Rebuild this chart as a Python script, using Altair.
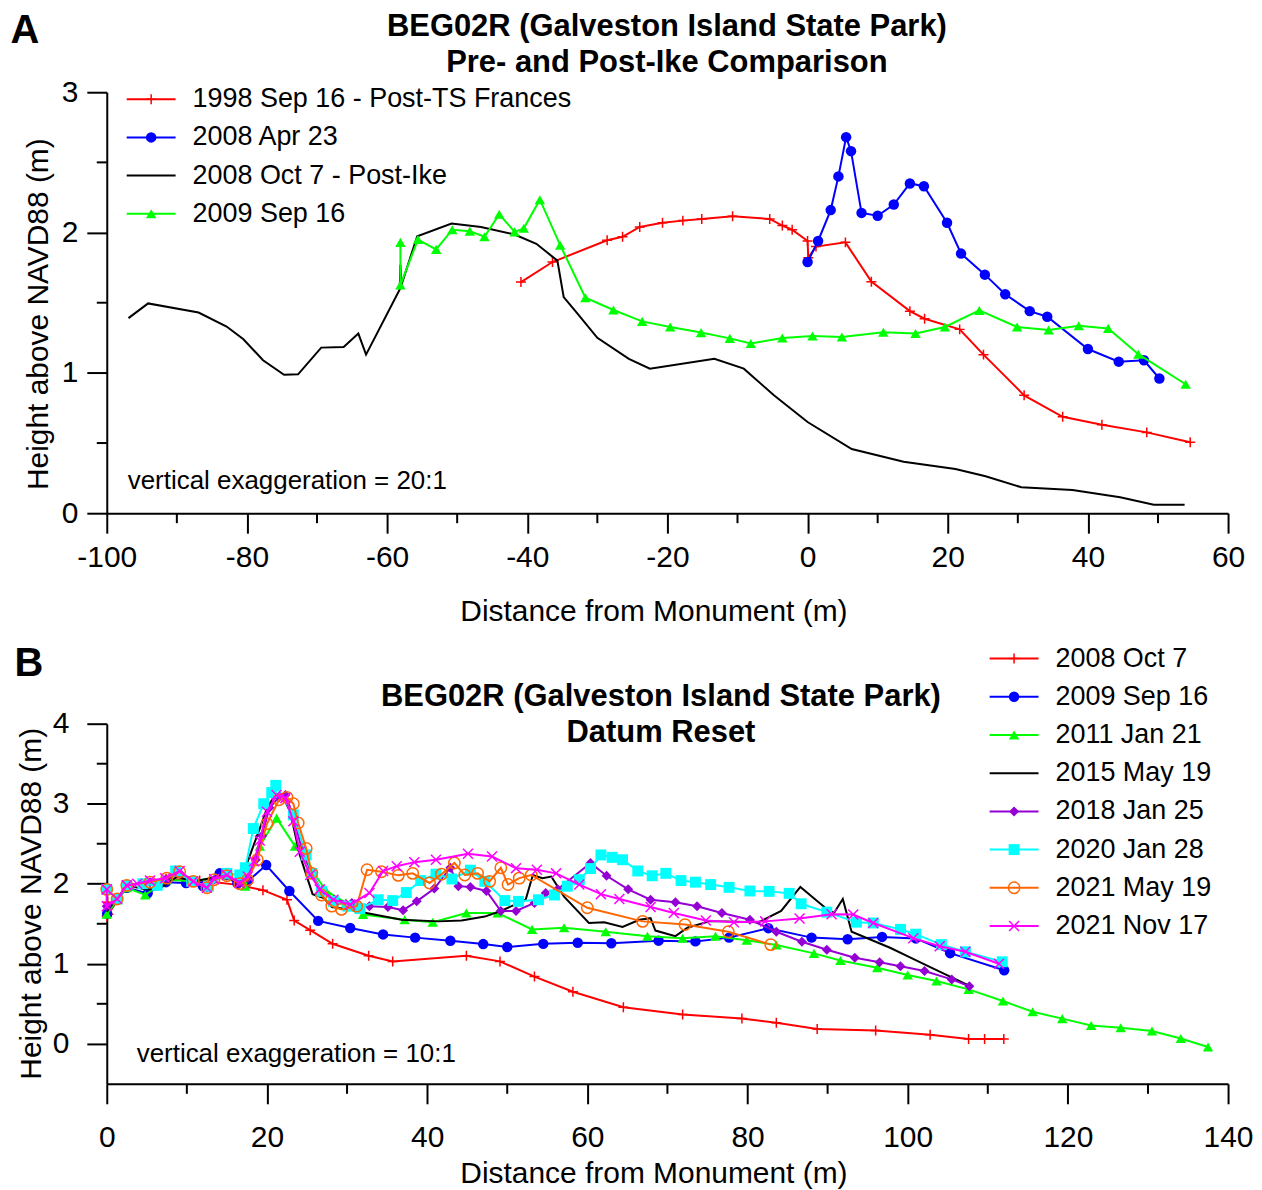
import altair as alt
import pandas as pd

FONT = "Liberation Sans"

# ---------------- Panel A data ----------------
a_1998_x = [-40.9, -36.4, -28.6, -26.4, -23.95, -20.7, -17.8, -15.1, -10.7, -5.4, -3.6, -2.2, 0.0, 0.1, 1.2, 5.4,
            9.1, 14.6, 16.7, 21.7, 25.1, 30.9, 36.4, 42.0, 48.4, 54.6]
a_1998_y = [1.647, 1.79, 1.945, 1.97, 2.04, 2.07, 2.085, 2.097, 2.116, 2.097, 2.05, 2.02, 1.94, 1.82, 1.90, 1.93,
            1.65, 1.44, 1.386, 1.31, 1.13, 0.84, 0.687, 0.63, 0.576, 0.505]

a_2008apr_x = [0.0, 1.5, 3.3, 4.4, 5.5, 6.2, 7.7, 10.0, 12.3, 14.6, 16.6, 19.9, 21.9, 25.3, 28.2, 31.7, 34.2,
               40.0, 44.4, 48.0, 50.2]
a_2008apr_y = [1.79, 1.94, 2.16, 2.40, 2.68, 2.58, 2.14, 2.12, 2.20, 2.35, 2.33, 2.07, 1.85, 1.70, 1.56, 1.44, 1.40,
               1.17, 1.08, 1.09, 0.96]

a_2008oct_x = [-96.9, -94.1, -86.9, -82.9, -80.5, -77.7, -74.7, -72.7, -69.4, -66.2, -64.1, -63.0, -58.2, -58.1,
               -58.0, -55.7, -50.8, -46.6, -41.8, -38.7, -35.7, -34.8, -32.8, -30.0, -25.5, -22.5, -13.3, -9.1,
               -4.8, 0.0, 6.3, 13.7, 21.1, 25.4, 30.5, 37.8, 44.6, 49.4, 51.4, 53.8]
a_2008oct_y = [1.39, 1.495, 1.43, 1.33, 1.24, 1.09, 0.986, 0.99, 1.18, 1.185, 1.28, 1.13, 1.595, 1.77, 1.62,
               1.974, 2.064, 2.04, 1.986, 1.92, 1.80, 1.54, 1.42, 1.25, 1.10, 1.03, 1.10, 1.03, 0.84, 0.65, 0.457,
               0.367, 0.315, 0.263, 0.185, 0.166, 0.114, 0.06, 0.06, 0.06]

a_2009_x = [-58.1, -58.1, -55.6, -53.0, -50.7, -48.2, -46.1, -44.0, -41.8, -40.5, -38.2, -35.3, -31.7, -27.7,
            -23.6, -19.6, -15.2, -11.1, -8.1, -3.6, 0.7, 4.9, 10.8, 15.4, 19.6, 24.5, 29.9, 34.4, 38.7, 42.9, 47.2,
            53.95]
a_2009_y = [1.93, 1.626, 1.95, 1.88, 2.02, 2.01, 1.97, 2.13, 2.005, 2.03, 2.234, 1.91, 1.536, 1.448, 1.367, 1.327,
            1.287, 1.246, 1.209, 1.249, 1.263, 1.256, 1.289, 1.28, 1.327, 1.445, 1.327, 1.306, 1.336, 1.317, 1.133,
            0.919]

# ---------------- Panel B data ----------------
b_2008_x = [0.0, 0.1, 0.2, 2.5, 7.4, 11.6, 16.4, 19.5, 22.5, 23.4, 25.4, 28.2, 32.7, 35.7, 44.9, 49.1, 53.4, 58.2,
            64.5, 71.9, 79.3, 83.6, 88.7, 96.0, 102.8, 107.6, 109.6, 112.0]
b_2008_y = [1.595, 1.77, 1.62, 1.974, 2.064, 2.04, 1.986, 1.92, 1.80, 1.54, 1.42, 1.25, 1.10, 1.03, 1.10, 1.03,
            0.84, 0.65, 0.457, 0.367, 0.315, 0.263, 0.185, 0.166, 0.114, 0.06, 0.06, 0.06]

b_2009_x = [0.0, 0.05, 2.5, 5.1, 7.4, 9.9, 12.0, 14.1, 16.3, 17.6, 19.9, 22.8, 26.4, 30.4, 34.5, 38.5, 42.9, 47.0,
            50.0, 54.5, 58.8, 63.0, 68.9, 73.5, 77.7, 82.6, 88.0, 92.5, 96.8, 101.0, 105.3, 112.05]
b_2009_y = [1.93, 1.626, 1.95, 1.88, 2.02, 2.01, 1.97, 2.13, 2.005, 2.03, 2.234, 1.91, 1.536, 1.448, 1.367, 1.327,
            1.287, 1.246, 1.209, 1.249, 1.263, 1.256, 1.289, 1.28, 1.327, 1.445, 1.327, 1.306, 1.336, 1.317, 1.133,
            0.919]

b_2011_x = [0.0, 2.5, 4.8, 7.5, 10.8, 15.0, 17.3, 19.1, 21.2, 23.5, 25.4, 27.4, 29.9, 32.0, 37.2, 40.7, 44.9, 48.8,
            53.1, 57.1, 62.3, 67.5, 71.9, 76.0, 79.9, 83.6, 88.3, 91.6, 96.2, 100.0, 103.6, 107.6, 111.9, 115.6,
            119.3, 122.9, 126.6, 130.5, 134.1, 137.5]
b_2011_y = [1.62, 1.95, 1.86, 2.05, 2.03, 2.10, 1.97, 2.47, 2.82, 2.47, 2.20, 1.91, 1.76, 1.615, 1.55, 1.52, 1.635,
            1.635, 1.43, 1.45, 1.40, 1.345, 1.32, 1.345, 1.295, 1.235, 1.13, 1.04, 0.95, 0.86, 0.785, 0.68, 0.535,
            0.40, 0.315, 0.23, 0.20, 0.16, 0.066, -0.04]

b_2015_x = [0.0, 2.5, 4.8, 6.5, 8.8, 10.8, 15.0, 16.6, 17.6, 19.1, 20.0, 21.0, 22.0, 22.9, 24.1, 25.7, 27.1, 28.1,
            30.1, 32.4, 36.8, 41.4, 44.3, 47.2, 49.2, 52.3, 53.2, 54.4, 55.5, 57.1, 60.2, 62.1, 64.4, 66.5, 67.9,
            68.5, 71.0, 72.5, 75.2, 77.1, 81.4, 84.2, 86.6, 87.8, 89.7, 90.8, 91.9, 93.0, 97.8, 99.9, 103.4, 107.4]
b_2015_y = [1.65, 1.98, 1.93, 1.93, 2.09, 2.03, 2.11, 1.98, 2.28, 2.69, 2.94, 3.11, 3.09, 2.90, 2.36, 1.87, 1.82,
            1.71, 1.68, 1.635, 1.55, 1.53, 1.54, 1.59, 1.66, 1.80, 2.11, 2.07, 2.09, 1.84, 1.51, 1.52, 1.46, 1.55,
            1.57, 1.415, 1.345, 1.45, 1.53, 1.53, 1.52, 1.66, 1.96, 1.86, 1.70, 1.635, 1.81, 1.40, 1.20, 1.10, 0.93,
            0.74]

b_2018_x = [0.0, 1.3, 2.5, 5.4, 7.3, 9.1, 10.8, 12.5, 13.4, 15.0, 16.6, 17.6, 18.6, 19.4, 20.3, 21.5, 22.3, 23.3,
            24.3, 25.5, 26.8, 28.4, 30.6, 32.8, 35.1, 37.0, 38.7, 40.9, 42.9, 43.9, 45.4, 47.4, 49.2, 51.1, 53.4,
            54.8, 56.3, 60.4, 62.4, 65.1, 67.9, 71.0, 73.7, 76.8, 80.3, 83.6, 86.8, 89.9, 93.4, 96.5, 99.1, 102.1,
            105.5, 107.7]
b_2018_y = [1.72, 1.81, 1.98, 2.02, 2.05, 2.13, 2.03, 1.95, 2.05, 2.10, 2.00, 2.07, 2.30, 2.60, 2.95, 3.08, 3.11,
            2.85, 2.45, 2.15, 1.92, 1.80, 1.76, 1.72, 1.71, 1.67, 1.78, 1.94, 2.20, 1.97, 1.96, 1.91, 1.66, 1.66,
            1.76, 1.885, 1.93, 2.26, 2.10, 1.93, 1.80, 1.77, 1.72, 1.635, 1.55, 1.40, 1.275, 1.175, 1.075, 1.02,
            0.97, 0.91, 0.805, 0.72]

b_2020_x = [0.0, 1.3, 2.5, 4.5, 6.3, 8.6, 10.6, 12.7, 15.0, 16.6, 17.3, 18.3, 19.6, 20.6, 21.1, 23.3, 24.9, 25.6,
            26.8, 28.3, 30.1, 31.6, 33.9, 35.7, 37.4, 39.2, 41.1, 43.1, 45.4, 47.2, 49.7, 51.4, 53.9, 55.9, 57.5,
            59.0, 60.4, 61.7, 63.1, 64.4, 66.3, 68.1, 69.8, 71.7, 73.5, 75.4, 77.7, 80.3, 82.7, 85.2, 86.7, 89.9,
            93.6, 95.7, 99.1, 101.0, 104.2, 107.2, 111.8]
b_2020_y = [1.93, 1.81, 1.98, 2.00, 1.98, 2.16, 2.03, 1.97, 2.13, 2.11, 2.20, 2.69, 3.00, 3.14, 3.23, 2.86, 2.36,
            2.13, 1.905, 1.78, 1.72, 1.69, 1.80, 1.79, 1.89, 2.04, 2.12, 2.06, 2.17, 2.03, 1.79, 1.78, 1.80, 1.86,
            1.97, 2.05, 2.19, 2.36, 2.33, 2.30, 2.16, 2.10, 2.13, 2.04, 2.02, 1.99, 1.955, 1.91, 1.905, 1.88, 1.75,
            1.645, 1.52, 1.51, 1.43, 1.37, 1.24, 1.15, 1.025]

b_2021may_x = [0.0, 1.3, 2.5, 5.4, 7.5, 9.1, 10.8, 12.5, 13.4, 15.0, 16.6, 17.6, 18.8, 20.0, 21.5, 22.5, 23.3, 23.9,
               24.9, 25.6, 26.8, 28.1, 29.3, 31.2, 32.5, 34.3, 36.4, 38.2, 40.3, 41.8, 43.4, 44.7, 46.3, 47.8, 49.2,
               50.1, 51.5, 53.0, 60.0, 66.9, 72.2, 77.6, 82.9]
b_2021may_y = [1.93, 1.81, 1.98, 2.02, 2.07, 2.15, 2.03, 1.95, 2.05, 2.10, 2.00, 2.05, 2.30, 2.75, 3.05, 3.08, 3.00,
               2.76, 2.44, 2.13, 1.86, 1.72, 1.68, 1.72, 2.175, 2.15, 2.105, 2.13, 2.01, 2.12, 2.26, 2.11, 2.13, 2.03,
               2.20, 1.99, 2.07, 2.11, 1.70, 1.53, 1.49, 1.40, 1.24]

b_2021nov_x = [0.0, 0.0, 1.3, 2.5, 3.8, 5.4, 7.3, 9.1, 10.8, 12.5, 13.4, 15.0, 16.6, 17.6, 18.4, 19.1, 20.0, 21.2,
               22.3, 23.3, 24.1, 25.4, 26.6, 28.3, 30.4, 32.8, 34.5, 36.2, 38.4, 41.1, 45.1, 48.1, 51.1, 53.7, 56.1,
               59.0, 61.7, 64.0, 67.9, 70.8, 74.8, 78.3, 82.2, 86.5, 90.5, 93.2, 95.7, 100.7, 104.0, 107.2, 111.4]
b_2021nov_y = [1.93, 1.72, 1.81, 1.98, 2.00, 2.04, 2.07, 2.16, 2.03, 1.95, 2.06, 2.11, 2.01, 2.09, 2.28, 2.54, 2.90,
               3.11, 3.07, 2.78, 2.40, 2.11, 1.93, 1.80, 1.74, 1.885, 2.16, 2.22, 2.27, 2.30, 2.375, 2.34, 2.195,
               2.175, 2.13, 1.99, 1.87, 1.81, 1.71, 1.635, 1.54, 1.52, 1.53, 1.565, 1.62, 1.615, 1.51, 1.32, 1.22,
               1.15, 1.0]

# tick values
a_x_major = [-100, -80, -60, -40, -20, 0, 20, 40, 60]
a_x_minor = [-90, -70, -50, -30, -10, 10, 30, 50]
a_y_major = [0, 1, 2, 3]
a_y_minor = [0.5, 1.5, 2.5]
b_x_major = [0, 20, 40, 60, 80, 100, 120, 140]
b_x_minor = [10, 30, 50, 70, 90, 110, 130]
b_y_major = [0, 1, 2, 3, 4]
b_y_minor = [0.5, 1.5, 2.5, 3.5]

# ---------------- styles ----------------
PLUS = "M-1,0H1M0,-1V1"
XMARK = "M-1,-1L1,1M-1,1L1,-1"
W = 1124
H1 = 422
H2 = 361

# series specs: (label, x, y, color, shape, size, filled)
a_series = [
    ("1998 Sep 16 - Post-TS Frances", a_1998_x, a_1998_y, "#FF0000", PLUS, 100, False),
    ("2008 Apr 23", a_2008apr_x, a_2008apr_y, "#0000FF", "circle", 110, True),
    ("2008 Oct 7 - Post-Ike", a_2008oct_x, a_2008oct_y, "#000000", None, 0, True),
    ("2009 Sep 16", a_2009_x, a_2009_y, "#00FF00", "triangle-up", 110, True),
]
b_series = [
    ("2008 Oct 7", b_2008_x, b_2008_y, "#FF0000", PLUS, 100, False),
    ("2009 Sep 16", b_2009_x, b_2009_y, "#0000FF", "circle", 110, True),
    ("2011 Jan 21", b_2011_x, b_2011_y, "#00FF00", "triangle-up", 110, True),
    ("2015 May 19", b_2015_x, b_2015_y, "#000000", None, 0, True),
    ("2018 Jan 25", b_2018_x, b_2018_y, "#9400D3", "diamond", 100, True),
    ("2020 Jan 28", b_2020_x, b_2020_y, "#00FFFF", "square", 120, True),
    ("2021 May 19", b_2021may_x, b_2021may_y, "#FF6600", "circle", 130, False),
    ("2021 Nov 17", b_2021nov_x, b_2021nov_y, "#FF00FF", XMARK, 100, False),
]


def neg_label():
    return "datum.value < 0 ? '-' + abs(datum.value) : '' + datum.value"


def make_axis(values, title, is_x, label_pad, title_x, title_y):
    return alt.Axis(
        values=values, title=title, grid=False,
        labelFont=FONT, labelFontSize=30, labelColor="black", labelPadding=label_pad,
        labelExpr=neg_label(), labelFlush=False, labelOverlap=False,
        tickSize=20, tickWidth=2, tickColor="black",
        domainColor="black", domainWidth=2,
        titleFont=FONT, titleFontSize=30, titleFontWeight="normal", titleColor="black",
        titleX=title_x, titleY=title_y, titleAlign="center", titleBaseline="middle",
        titleAngle=0 if is_x else 270,
    )


def panel(series, xdom, ydom, xmaj, xmin, ymaj, ymin, H, xlabpad, ylabpad, xtitle_y, ytitle_x, ytitle_y,
          leg_x0, leg_y0, title_lines, title_cx, title_y0, letter, letter_xy, note, note_xy):
    xenc = alt.X("x:Q", scale=alt.Scale(domain=xdom, nice=False, zero=False),
                 axis=make_axis(xmaj, "Distance from Monument (m)", True, xlabpad, 548, xtitle_y))
    yenc = alt.Y("y:Q", scale=alt.Scale(domain=ydom, nice=False, zero=False),
                 axis=make_axis(ymaj, "Height above NAVD88 (m)", False, ylabpad, ytitle_x, ytitle_y))
    layers = []
    # minor ticks
    layers.append(alt.Chart(pd.DataFrame({"x": xmin})).mark_rule(color="black", strokeWidth=2).encode(
        x=xenc, y=alt.value(H), y2=alt.value(H + 10)))
    layers.append(alt.Chart(pd.DataFrame({"y": ymin})).mark_rule(color="black", strokeWidth=2).encode(
        y=yenc, x=alt.value(-10), x2=alt.value(0)))
    for i, (lab, xs, ys, col, shp, sz, filled) in enumerate(series):
        df = pd.DataFrame({"x": xs, "y": ys, "i": list(range(len(xs)))})
        layers.append(alt.Chart(df).mark_line(color=col, strokeWidth=2).encode(x=xenc, y=yenc, order="i:Q"))
        if shp is not None:
            if filled:
                pm = alt.Chart(df).mark_point(shape=shp, size=sz, filled=True, color=col, opacity=1)
            else:
                pm = alt.Chart(df).mark_point(shape=shp, size=sz, filled=False, color=col, strokeWidth=1.5,
                                              opacity=1)
            layers.append(pm.encode(x=xenc, y=yenc))
        # legend entry
        ly = leg_y0 + i * 38.3
        one = pd.DataFrame({"t": [lab]})
        layers.append(alt.Chart(one).mark_rule(color=col, strokeWidth=2).encode(
            x=alt.value(leg_x0), x2=alt.value(leg_x0 + 49), y=alt.value(ly)))
        if shp is not None:
            if filled:
                lm = alt.Chart(one).mark_point(shape=shp, size=sz, filled=True, color=col, opacity=1)
            else:
                lm = alt.Chart(one).mark_point(shape=shp, size=sz, filled=False, color=col, strokeWidth=1.5,
                                               opacity=1)
            layers.append(lm.encode(x=alt.value(leg_x0 + 24.5), y=alt.value(ly)))
        layers.append(alt.Chart(one).mark_text(align="left", baseline="middle", font=FONT, fontSize=27,
                                               color="black").encode(
            x=alt.value(leg_x0 + 66), y=alt.value(ly), text="t:N"))
    # titles
    for k, line in enumerate(title_lines):
        layers.append(alt.Chart(pd.DataFrame({"t": [line]})).mark_text(
            align="center", baseline="middle", font=FONT, fontSize=31, fontWeight="bold", color="black").encode(
            x=alt.value(title_cx), y=alt.value(title_y0 + 36 * k), text="t:N"))
    layers.append(alt.Chart(pd.DataFrame({"t": [letter]})).mark_text(
        align="center", baseline="middle", font=FONT, fontSize=40, fontWeight="bold", color="black").encode(
        x=alt.value(letter_xy[0]), y=alt.value(letter_xy[1]), text="t:N"))
    layers.append(alt.Chart(pd.DataFrame({"t": [note]})).mark_text(
        align="left", baseline="middle", font=FONT, fontSize=26, color="black").encode(
        x=alt.value(note_xy[0]), y=alt.value(note_xy[1]), text="t:N"))
    return alt.layer(*layers).properties(width=W, height=H)


top = panel(a_series, [-100, 60], [0, 3], a_x_major, a_x_minor, a_y_major, a_y_minor, H1,
            9, 9, 99, -68, 222,
            20, 7, ["BEG02R (Galveston Island State Park)", "Pre- and Post-Ike Comparison"], 561.5, -65.5,
            "A", (-82, -61), "vertical exaggeration = 20:1", (21, 390))
bottom = panel(b_series, [0, 140], [-0.5, 4], b_x_major, b_x_minor, b_y_major, b_y_minor, H2,
               19, 18, 90, -75, 180,
               885, -65.3, ["BEG02R (Galveston Island State Park)", "Datum Reset"], 555.5, -27,
               "B", (-78, -60), "vertical exaggeration = 10:1", (30, 331))

chart = alt.vconcat(top, bottom, spacing=17).properties(
    padding={"left": 2, "top": 1, "right": 0, "bottom": 0}).configure_view(stroke=None)

chart.save("out.html", embed_options={"renderer": "svg", "actions": False})
